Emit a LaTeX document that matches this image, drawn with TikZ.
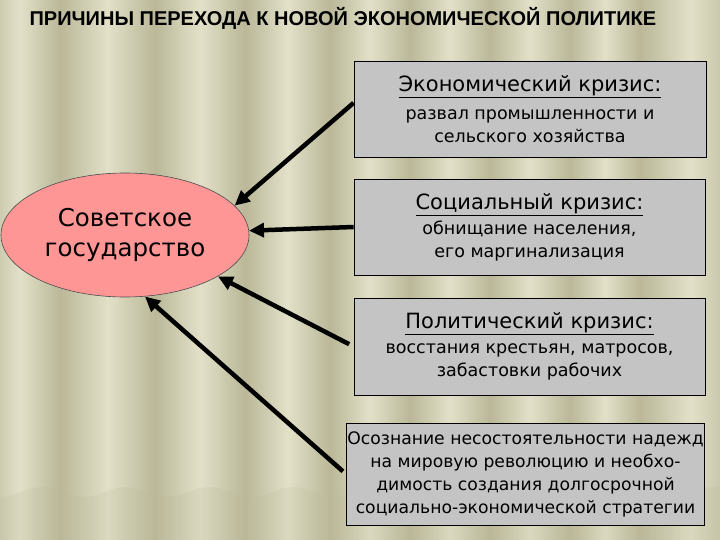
\documentclass[tikz,border=0pt]{standalone}
\usepackage{fontspec}
\setmainfont{DejaVu Sans}
\newfontfamily\titlefont{Liberation Sans}
\usepackage{tikz}
\usetikzlibrary{shapes.geometric,arrows.meta}

\definecolor{bglight}{RGB}{226,224,200}
\definecolor{bgdark}{RGB}{186,184,152}
\definecolor{boxgray}{RGB}{196,196,196}
\definecolor{gospink}{RGB}{255,150,150}

\begin{document}
\begin{tikzpicture}[x=1pt, y=-1pt,
    crisis/.style={draw=black, line width=0.8pt, fill=boxgray, align=center, inner sep=1pt,
        font=\fontsize{17.5}{23}\selectfont},
    arr/.style={line width=4.5pt, -{Triangle[length=15pt,width=14pt]}}]

    \useasboundingbox (0,0) rectangle (720,540);

    % curtain
    \fill[bglight] (0,0) rectangle (720,540);
    \foreach \xa/\xb in {-20/60, 60/155, 155/245, 245/330, 330/410, 410/490, 490/570, 570/640, 640/740} {
        \shade[left color=bgdark, right color=bglight] (\xa,0) rectangle ({(\xa+\xb)/2},540);
        \shade[left color=bglight, right color=bgdark] ({(\xa+\xb)/2},0) rectangle (\xb,540);
    }
    \fill[bgdark, opacity=.2] (0,540) -- plot[domain=0:720, samples=90, smooth] (\x,{492+5*cos(\x*4.3)}) -- (720,540) -- cycle;

    \node[anchor=west, font=\titlefont\bfseries\fontsize{20}{24}\selectfont] (title) at (26,18)
        {ПРИЧИНЫ ПЕРЕХОДА К НОВОЙ ЭКОНОМИЧЕСКОЙ ПОЛИТИКЕ};

    \node[ellipse, draw=black!70, line width=0.6pt, fill=gospink, minimum width=248pt, minimum height=124pt,
        inner sep=0pt, align=center, font=\fontsize{24.5}{30}\selectfont] (gos) at (125,235) {Советское\\государство};

    \node[crisis, minimum width=352pt, minimum height=96pt] (k1) at (530,109)
        {{\fontsize{21}{26}\selectfont\underline{Экономический кризис:}}\\[5pt]развал промышленности и\\сельского хозяйства};
    \node[crisis, minimum width=351pt, minimum height=96pt] (k2) at (529.5,227)
        {{\fontsize{21}{26}\selectfont\underline{Социальный кризис:}}\\[2pt]обнищание населения,\\его маргинализация};
    \node[crisis, minimum width=351pt, minimum height=97pt] (k3) at (529.5,346.5)
        {{\fontsize{21}{26}\selectfont\underline{Политический кризис:}}\\[2pt]восстания крестьян, матросов,\\забастовки рабочих};
    \node[crisis, minimum width=357pt, minimum height=102pt, font=\fontsize{17.2}{23}\selectfont] (k4) at (525.5,474)
        {Осознание несостоятельности надежд\\на мировую революцию и необхо-\\димость создания долгосрочной\\социально-экономической стратегии};

    \path[arr]
        (k1.178) edge (gos.15)
        (k2.west) edge (gos.2)
        (k3.west) edge[shorten <=5pt] (gos.-24)
        (k4.west) edge[shorten <=4pt] (gos.-72);

\end{tikzpicture}
\end{document}
